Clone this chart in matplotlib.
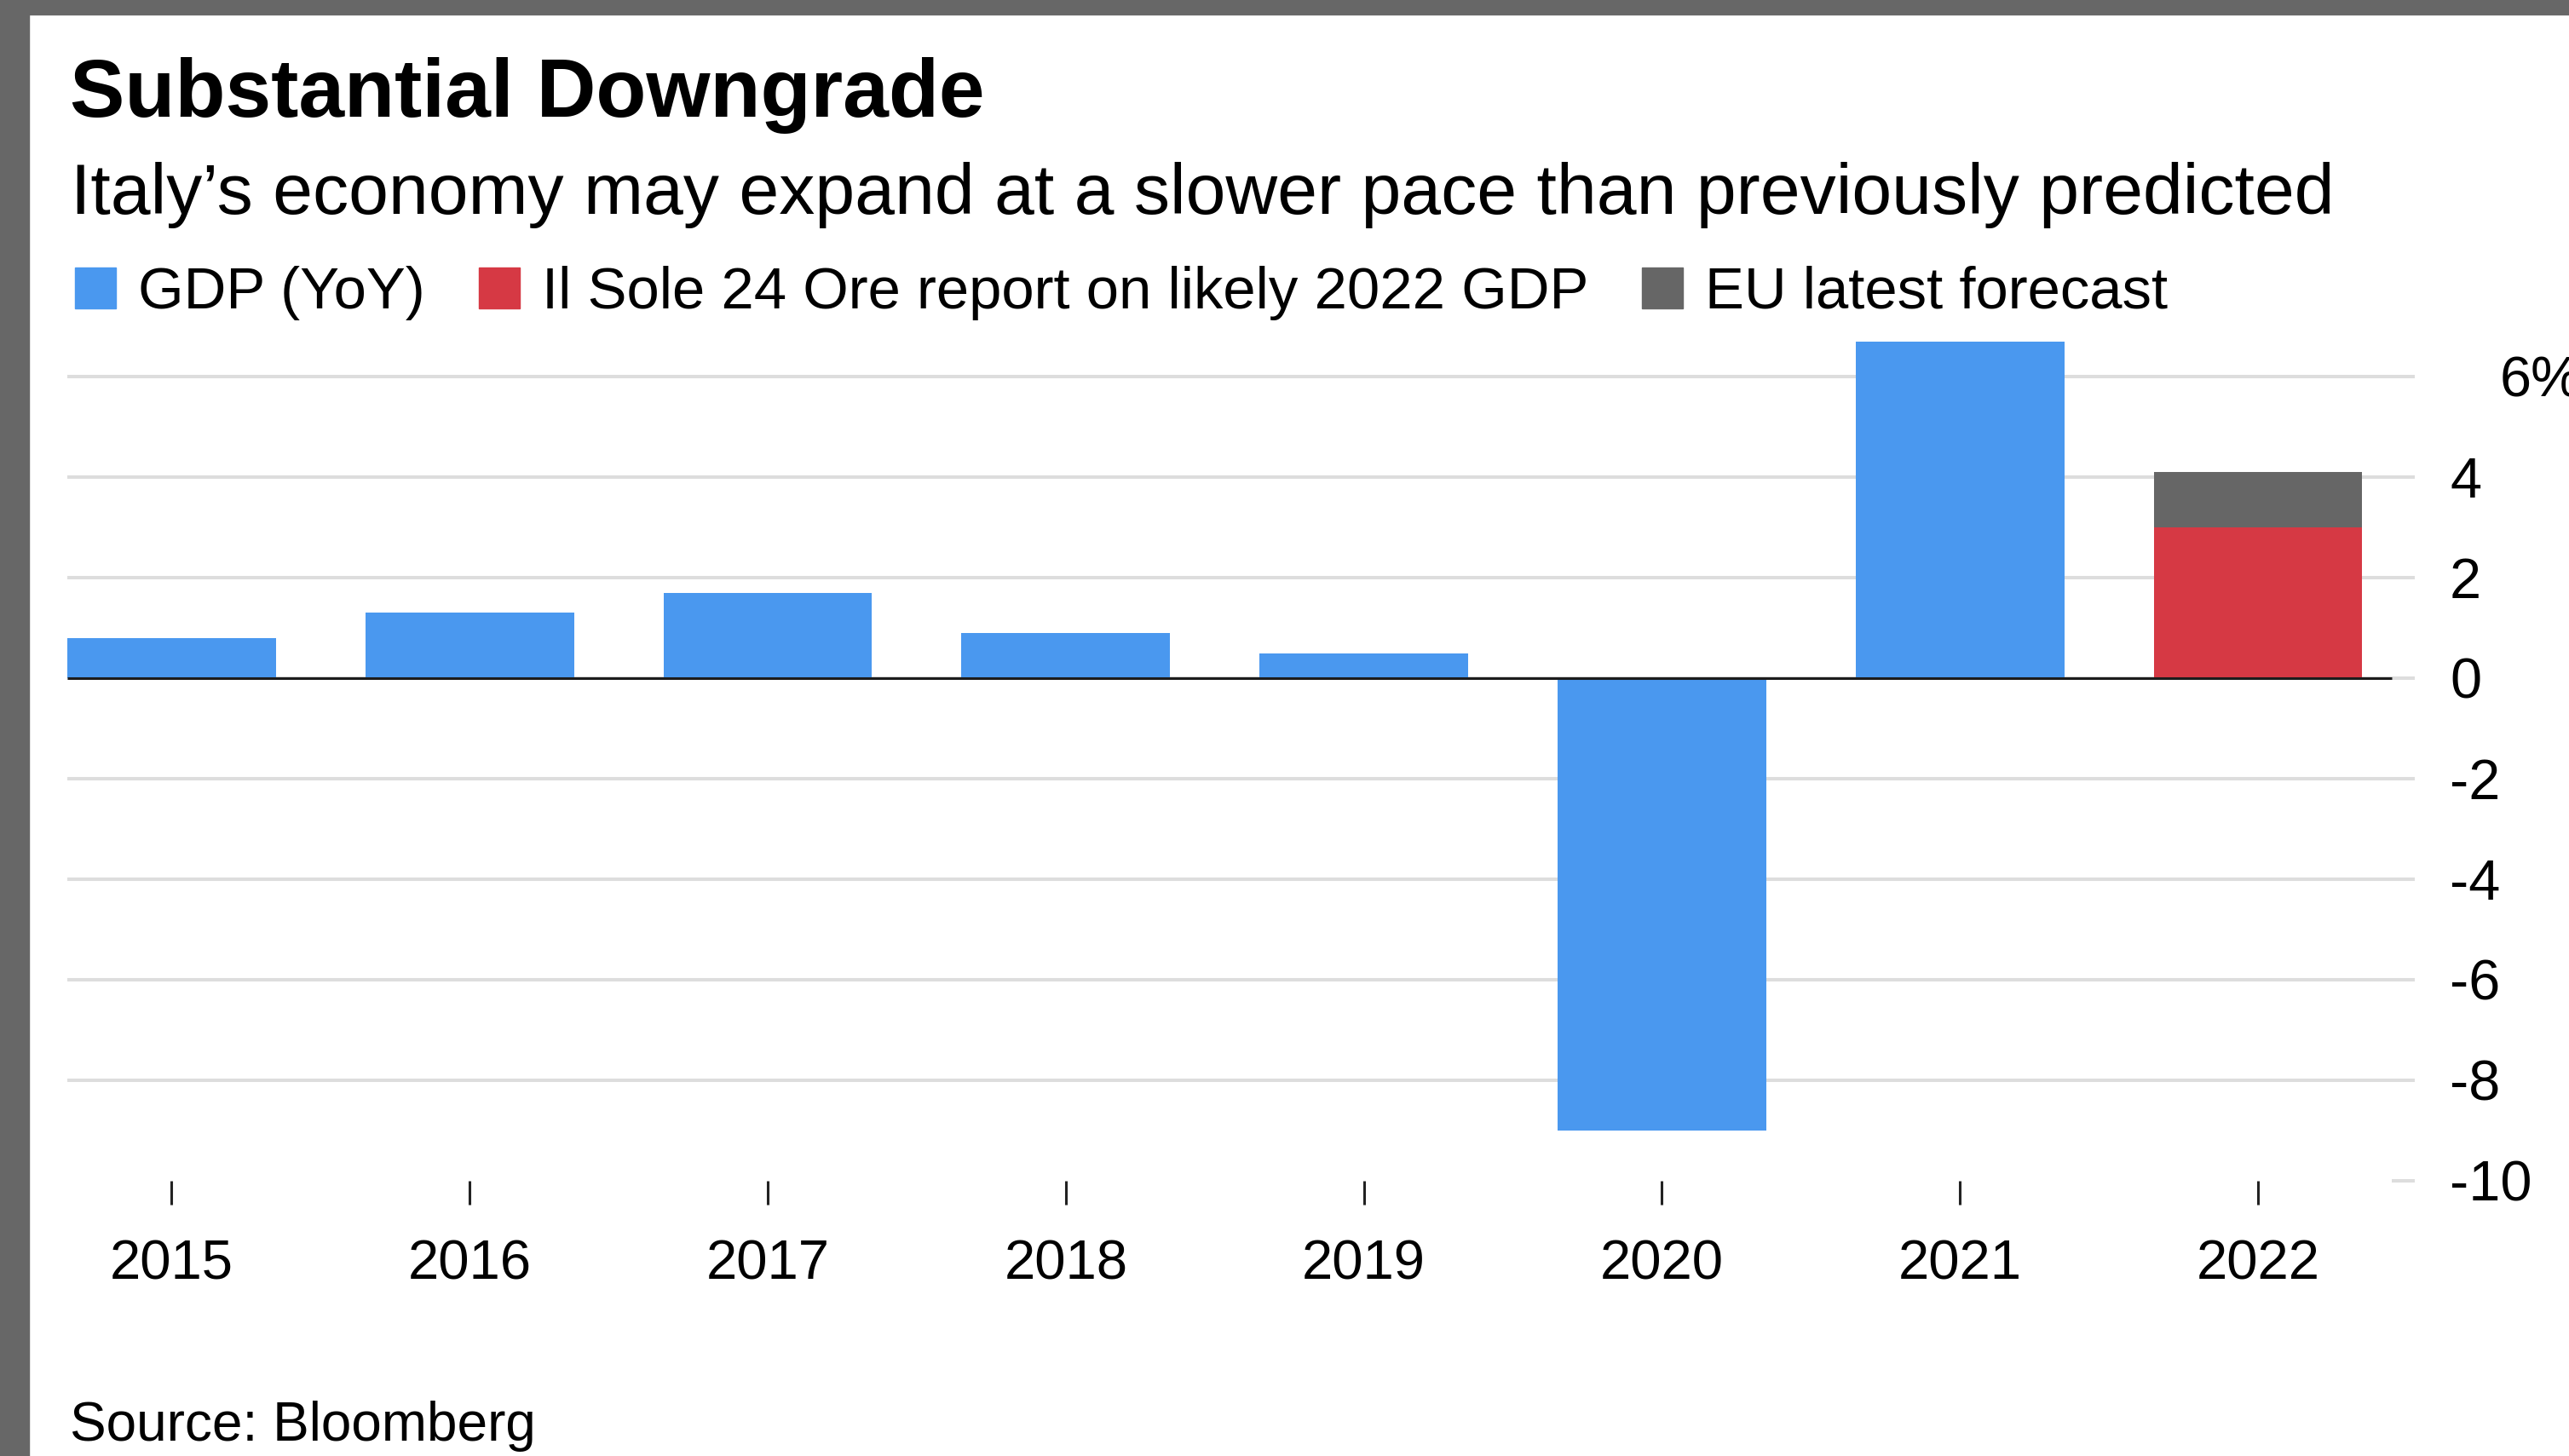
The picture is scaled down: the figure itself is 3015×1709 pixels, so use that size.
"""Italy GDP chart: Substantial Downgrade (Bloomberg style)."""

import matplotlib.pyplot as plt
import matplotlib.transforms as mtransforms
from matplotlib.patches import Rectangle

W, H = 3015, 1709
DPI = 100

years = ["2015", "2016", "2017", "2018", "2019", "2020", "2021", "2022"]
gdp_yoy = [0.8, 1.3, 1.7, 0.9, 0.5, -9.0, 6.7]  # 2015-2021
sole_2022 = 3.0
eu_2022 = 4.1
y_ticks = [6, 4, 2, 0, -2, -4, -6, -8, -10]
y_labels = ["6%", "4", "2", "0", "-2", "-4", "-6", "-8", "-10"]
legend_labels = ["GDP (YoY)", "Il Sole 24 Ore report on likely 2022 GDP",
                 "EU latest forecast"]

TITLE = "Substantial Downgrade"
SUBTITLE = "Italy\u2019s economy may expand at a slower pace than previously predicted"
SOURCE = "Source: Bloomberg"

BLUE = "#4a98ef"
RED = "#d63944"
GREY = "#666666"
GRID = "#dddddd"
BORDER = "#676767"

plt.rcParams["font.family"] = ["Liberation Sans", "DejaVu Sans"]


def fx(px):
    return px / W


def fy(py):
    return 1 - py / H


def fit_width(text, target_px, renderer):
    """Scale a text's font size so it spans target_px pixels."""
    w = text.get_window_extent(renderer).width
    text.set_fontsize(text.get_fontsize() * target_px / w)


fig = plt.figure(figsize=(W / DPI, H / DPI), dpi=DPI)
fig.patch.set_facecolor("white")
renderer = fig.canvas.get_renderer()

ax = fig.add_axes([fx(79), fy(1386), fx(2834) - fx(79), fy(383) - fy(1386)])
x = list(range(len(years)))
x_left, x_right, zero_end = -0.35, 7.526, 7.449
ax.set_xlim(x_left, x_right)
ax.set_ylim(-10, 7)

# gridlines (the bottom one only shows as a stub next to its label)
for v in y_ticks:
    if v == y_ticks[-1]:
        ax.hlines(v, zero_end, x_right, color=GRID, lw=2.9, zorder=0,
                  clip_on=False)
    else:
        ax.hlines(v, x_left, x_right, color=GRID, lw=2.9, zorder=0)

ax.bar(x[:len(gdp_yoy)], gdp_yoy, width=0.7, color=BLUE, zorder=2)
ax.bar(x[-1], sole_2022, width=0.7, color=RED, zorder=2)
ax.bar(x[-1], eu_2022 - sole_2022, bottom=sole_2022, width=0.7, color=GREY,
       zorder=2)
ax.hlines(0, x_left, zero_end, color="#1c1c1c", lw=2.2, zorder=3)

for side in ax.spines.values():
    side.set_visible(False)
ax.set_facecolor("none")
ax.set_xticks(x)
ax.set_xticklabels([])
ax.set_yticks([])
ax.tick_params(axis="x", length=20, width=2.2, color="#222222",
               direction="out")

# year labels
year_trans = mtransforms.blended_transform_factory(ax.transData,
                                                   fig.transFigure)
for i, yr in enumerate(years):
    ax.text(x[i], fy(1502), yr, transform=year_trans, ha="center",
            va="baseline", fontsize=47, color="black")

# value labels on the right
val_trans = mtransforms.offset_copy(
    mtransforms.blended_transform_factory(ax.transAxes, ax.transData),
    fig=fig, y=-24, units="dots")
for v, lab in zip(y_ticks, y_labels):
    px = 2934 if v == y_ticks[0] else 2875
    ax.text((px - 79) / (2834 - 79), v, lab, transform=val_trans,
            ha="left", va="baseline", fontsize=48, color="black")

# header
title = fig.text(fx(82), fy(137), TITLE, fontsize=70, fontweight="bold",
                 va="baseline", ha="left")
fit_width(title, 1074, renderer)
subtitle = fig.text(fx(83), fy(251), SUBTITLE, fontsize=56, va="baseline",
                    ha="left")
fit_width(subtitle, 2654, renderer)

# legend
leg_colors = [BLUE, RED, GREY]
leg_texts = [fig.text(0, fy(362), lab, fontsize=50, va="baseline", ha="left")
             for lab in legend_labels]
total = sum(t.get_window_extent(renderer).width for t in leg_texts)
scale = 2110 / total
x_px = 88
for t, c in zip(leg_texts, leg_colors):
    t.set_fontsize(50 * scale)
    fig.patches.append(Rectangle((fx(x_px), fy(362)), 48 / W, 48 / H,
                                 transform=fig.transFigure, color=c))
    x_px += 48 + 26
    t.set_x(fx(x_px))
    x_px += t.get_window_extent(renderer).width + 63

source = fig.text(fx(82), fy(1691), SOURCE, fontsize=45, va="baseline",
                  ha="left")
fit_width(source, 547, renderer)

# screenshot frame
fig.patches.append(Rectangle((0, fy(17)), 1, 17 / H,
                             transform=fig.transFigure, color=BORDER))
fig.patches.append(Rectangle((0, 0), fx(34), 1,
                             transform=fig.transFigure, color=BORDER))

fig.savefig("out.png", dpi=DPI)
